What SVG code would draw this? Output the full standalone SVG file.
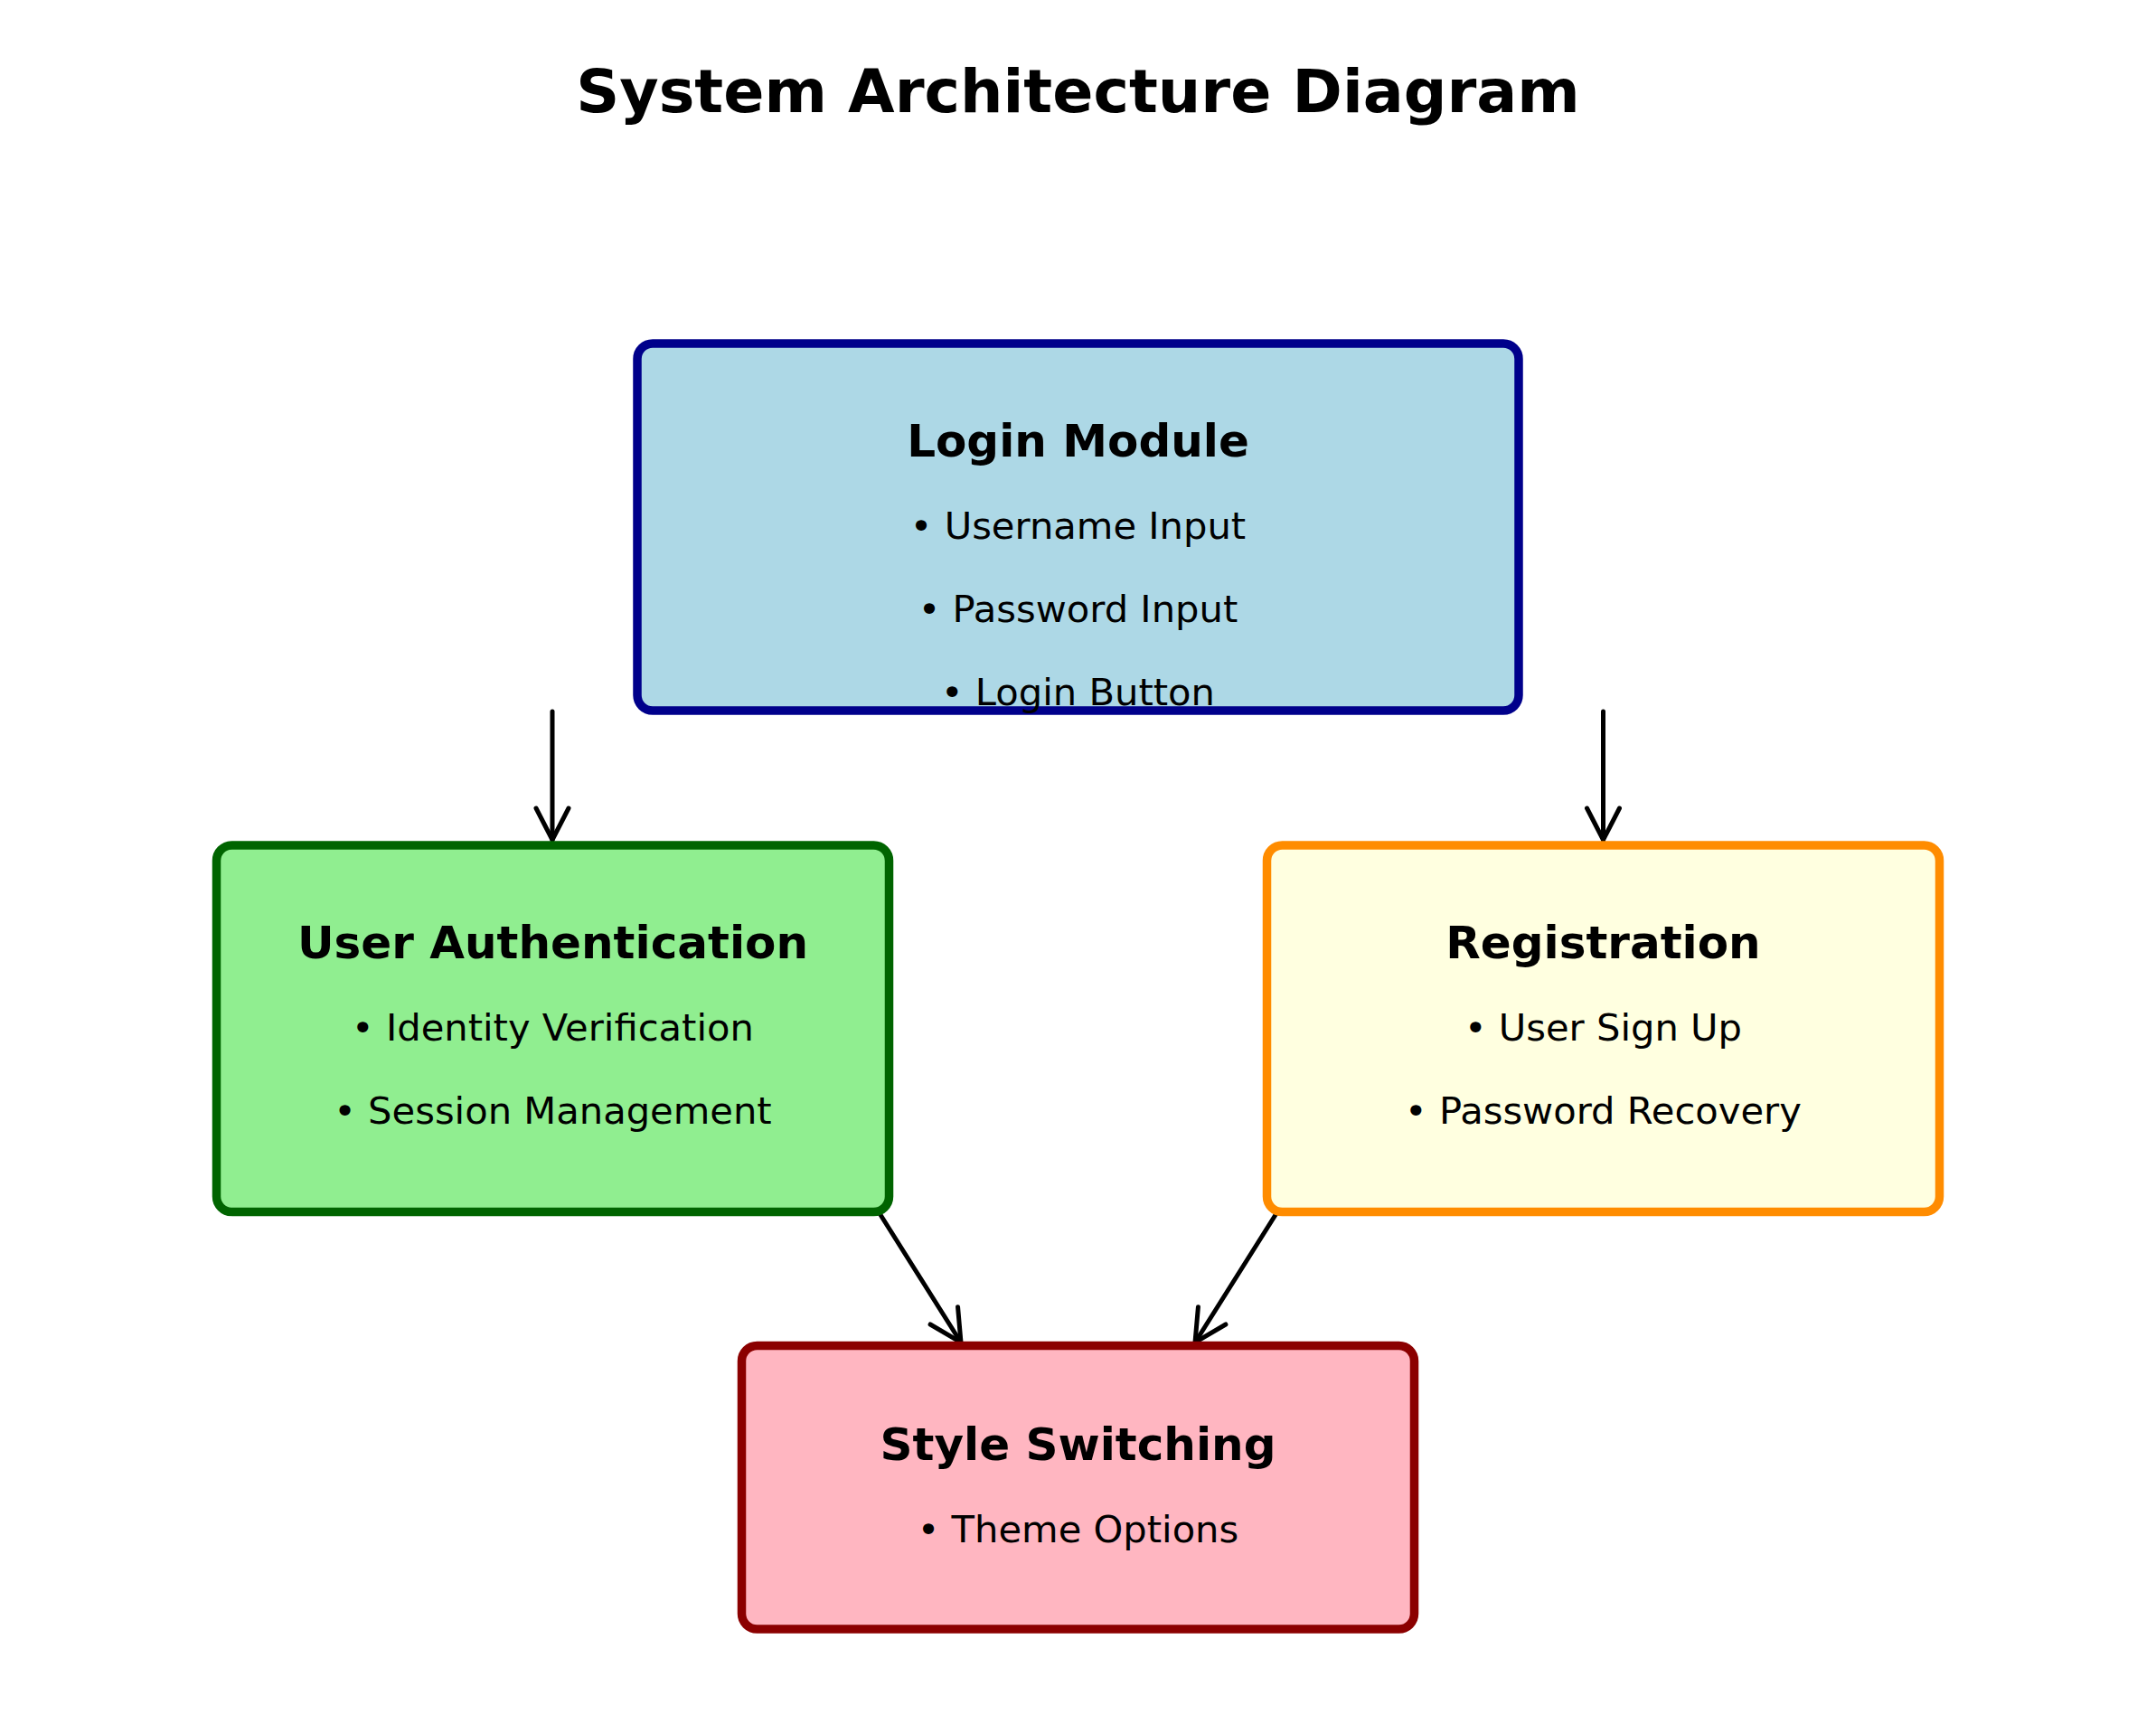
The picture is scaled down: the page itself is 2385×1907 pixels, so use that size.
<svg xmlns="http://www.w3.org/2000/svg" width="2385" height="1907" viewBox="0 0 2385 1907">
<style>
.title{font-family:"DejaVu Sans",sans-serif;font-weight:bold;font-size:66.67px;fill:#000;text-anchor:middle}
.ntitle{font-family:"DejaVu Sans",sans-serif;font-weight:bold;font-size:50px;fill:#000;text-anchor:middle}
.item{font-family:"DejaVu Sans",sans-serif;font-size:41.67px;fill:#000;text-anchor:middle}
.box{stroke-width:9.5}
.conn{fill:none;stroke:#000;stroke-width:5;stroke-linecap:round}
</style>
<defs>
<marker id="arr" markerUnits="userSpaceOnUse" markerWidth="80" markerHeight="80" viewBox="-40 -40 80 80" refX="0" refY="0" orient="auto" overflow="visible">
<path d="M-35,-18 L0,0 L-35,18" fill="none" stroke="#000" stroke-width="5" stroke-linecap="round" stroke-linejoin="miter"/>
</marker>
</defs>
<rect width="2385" height="1907" fill="#fff"/>
<text class="title" x="1192.5" y="124">System Architecture Diagram</text>
<g id="connectors">
<line class="conn" x1="611" y1="787" x2="611" y2="929" marker-end="url(#arr)"/>
<line class="conn" x1="1773.5" y1="787" x2="1773.5" y2="929" marker-end="url(#arr)"/>
<line class="conn" x1="971" y1="1339" x2="1063" y2="1485" marker-end="url(#arr)"/>
<line class="conn" x1="1414" y1="1339" x2="1322" y2="1485" marker-end="url(#arr)"/>
</g>
<g id="login">
<rect class="box" x="705" y="380" width="975" height="406" rx="17" fill="#ADD8E6" stroke="#00008B"/>
<text class="ntitle" x="1192.5" y="505">Login Module</text>
<text class="item" x="1192.5" y="596">• Username Input</text>
<text class="item" x="1192.5" y="688">• Password Input</text>
<text class="item" x="1192.5" y="780">• Login Button</text>
</g>
<g id="auth">
<rect class="box" x="239.5" y="935" width="744" height="405.5" rx="17" fill="#90EE90" stroke="#006400"/>
<text class="ntitle" x="611.5" y="1060">User Authentication</text>
<text class="item" x="611.5" y="1151">• Identity Verification</text>
<text class="item" x="611.5" y="1243">• Session Management</text>
</g>
<g id="registration">
<rect class="box" x="1401.5" y="935" width="744" height="405.5" rx="17" fill="#FFFFE0" stroke="#FF8C00"/>
<text class="ntitle" x="1773.5" y="1060">Registration</text>
<text class="item" x="1773.5" y="1151">• User Sign Up</text>
<text class="item" x="1773.5" y="1243">• Password Recovery</text>
</g>
<g id="style">
<rect class="box" x="820.5" y="1488.5" width="744" height="313.5" rx="17" fill="#FFB6C1" stroke="#8B0000"/>
<text class="ntitle" x="1192.5" y="1615">Style Switching</text>
<text class="item" x="1192.5" y="1706">• Theme Options</text>
</g>
</svg>
